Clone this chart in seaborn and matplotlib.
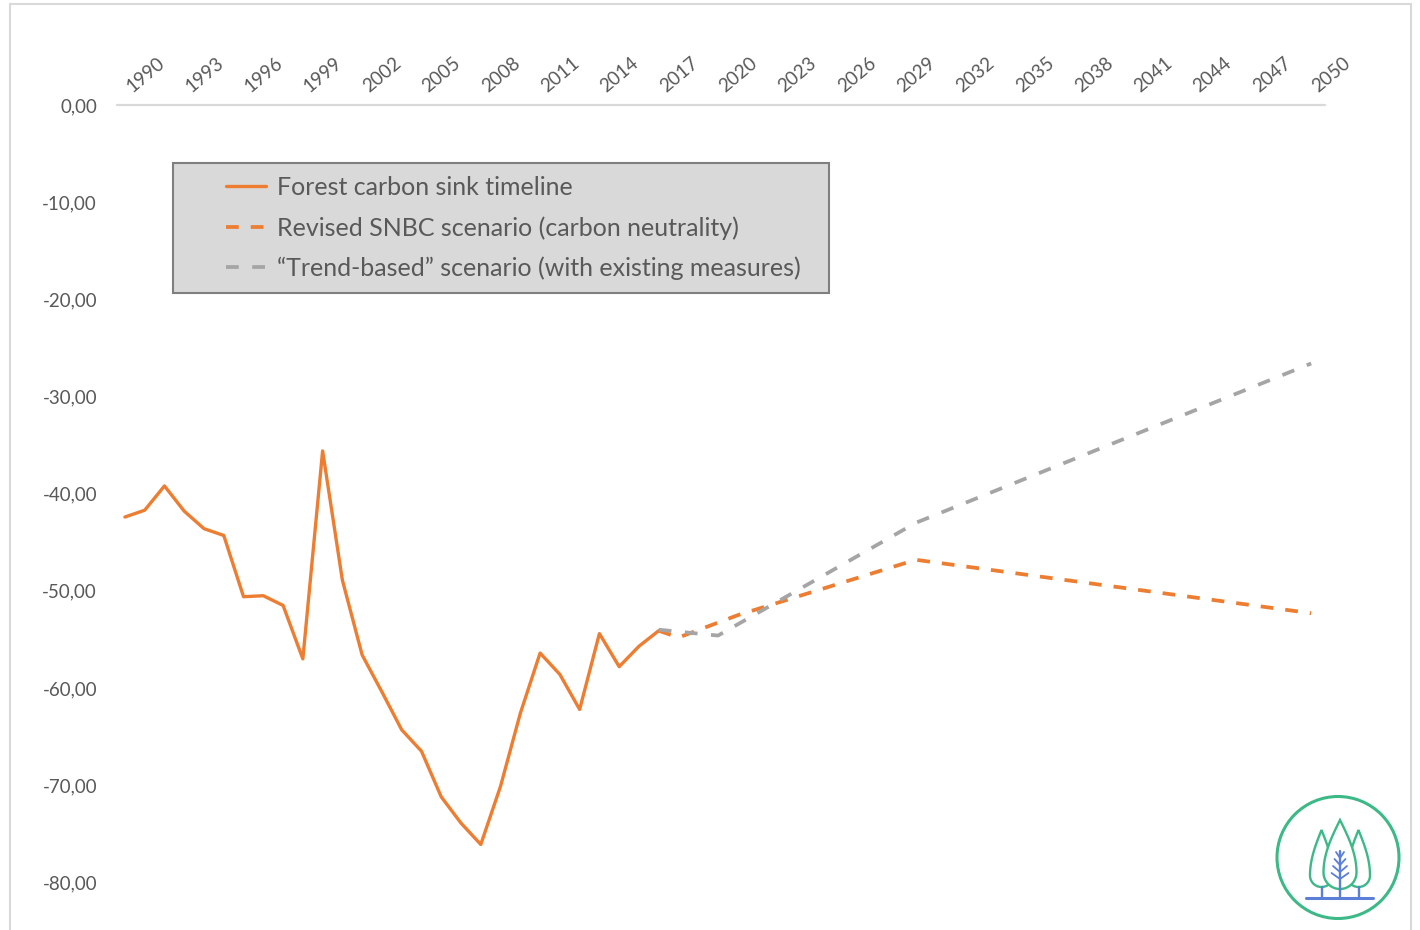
import numpy as np
import pandas as pd
import matplotlib
matplotlib.use("Agg")
import matplotlib.pyplot as plt
import matplotlib.transforms as mtransforms
from matplotlib.patches import Rectangle, Circle, Polygon
import seaborn as sns

# ---- data (MtCO2eq) ----
hist_years = list(range(1990, 2018))
hist_sink = [-42.4, -41.7, -39.2, -41.8, -43.6, -44.3, -50.6, -50.5, -51.5, -57.0,
             -35.6, -48.9, -56.6, -60.4, -64.3, -66.5, -71.2, -73.9, -76.1, -70.1,
             -62.6, -56.4, -58.6, -62.2, -54.4, -57.8, -55.7, -54.1]

snbc_years = [2017, 2018, 2021, 2030, 2050]
snbc_sink = [-54.1, -54.8, -52.5, -46.8, -52.3]

trend_years = [2017, 2020, 2030, 2050]
trend_sink = [-54.0, -54.6, -43.0, -26.6]

tick_years = list(range(1990, 2051, 3))
y_ticks = [0, -10, -20, -30, -40, -50, -60, -70, -80]

labels = ["Forest carbon sink timeline",
          "Revised SNBC scenario (carbon neutrality)",
          "\u201cTrend-based\u201d scenario (with existing measures)"]

ORANGE = "#ED7D31"
GREY = "#A5A5A5"
TEXT = "#595959"

sns.set_theme(style="white")
plt.rcParams["font.family"] = ["Lato", "DejaVu Sans"]

W, H = 1420, 930
fig = plt.figure(figsize=(W / 100, H / 100), dpi=100)


def fx(px):
    return px / W


def fy(py):
    return 1 - py / H


ax = fig.add_axes([fx(117), 0, fx(1325) - fx(117), fy(105)])

hist_df = pd.DataFrame({"year": hist_years, "value": hist_sink})
snbc_df = pd.DataFrame({"year": snbc_years, "value": snbc_sink})
trend_df = pd.DataFrame({"year": trend_years, "value": trend_sink})

sns.lineplot(data=hist_df, x="year", y="value", ax=ax, color=ORANGE,
             linewidth=2.4, label=labels[0])
sns.lineplot(data=snbc_df, x="year", y="value", ax=ax, color=ORANGE,
             linewidth=2.7, linestyle=(0, (3.4, 3.2)), label=labels[1])
sns.lineplot(data=trend_df, x="year", y="value", ax=ax, color=GREY,
             linewidth=2.7, linestyle=(0, (3.4, 3.6)), label=labels[2])

ax.set_xlim(1989.6, 2050.7)
ax.set_ylim(-84.9, 0)
ax.set_xlabel("")
ax.set_ylabel("")
for s in ax.spines.values():
    s.set_visible(False)

# zero line at the top edge
ax.axhline(0, color="#D9D9D9", linewidth=1.6, clip_on=False, zorder=1)

ax.xaxis.tick_top()
ax.set_xticks(tick_years)
ax.set_xticklabels([str(y) for y in tick_years], rotation=40, ha="left",
                   va="bottom", rotation_mode="anchor")
ax.tick_params(axis="x", length=0, pad=10, labelsize=13.5, colors=TEXT)
shift = mtransforms.ScaledTranslation(9 / 100, -4 / 100, fig.dpi_scale_trans)
for lbl in ax.get_xticklabels():
    lbl.set_transform(lbl.get_transform() + shift)

ax.set_yticks(y_ticks)
ax.set_yticklabels([f"{v:.2f}".replace(".", ",") for v in y_ticks])
ax.tick_params(axis="y", length=0, pad=14.4, labelsize=13.5, colors=TEXT)

# legend with grey box
handles, _ = ax.get_legend_handles_labels()
if ax.get_legend():
    ax.get_legend().remove()
box = Rectangle((fx(173), fy(293)), fx(829) - fx(173), fy(163) - fy(293),
                transform=fig.transFigure, facecolor="#D9D9D9",
                edgecolor="#7F7F7F", linewidth=1.5, zorder=4, clip_on=False)
ax.add_patch(box)
leg = ax.legend(handles, labels, loc="upper left",
                bbox_to_anchor=(fx(226), fy(176)),
                bbox_transform=fig.transFigure, frameon=False, borderpad=0,
                borderaxespad=0, fontsize=18, handlelength=1.6,
                handletextpad=0.45, labelspacing=0.68)
for t in leg.get_texts():
    t.set_color(TEXT)
leg.set_zorder(6)

# outer frame
fig.patches.append(Rectangle((fx(10), fy(940)), fx(1411) - fx(10), fy(4) - fy(940),
                             transform=fig.transFigure, fill=False,
                             edgecolor="#D9D9D9", linewidth=1.5))

# ---- forest emblem ----
lax = fig.add_axes([fx(1270), fy(928), fx(1410) - fx(1270), fy(788) - fy(928)])
lax.set_xlim(1270, 1410)
lax.set_ylim(928, 788)
lax.set_aspect("equal")
lax.axis("off")

GREEN = "#3DB988"
BLUE = "#5B7ED6"

lax.add_patch(Circle((1338, 857.5), 61, fill=False, edgecolor=GREEN, linewidth=2.2))


def teardrop(cx, ytop, ybot, w):
    yc = ybot - w
    s = np.linspace(0, 1, 40)
    up_x = w * np.sin(s * np.pi / 2)
    up_y = ytop + s * (yc - ytop)
    th = np.linspace(0, np.pi, 40)
    lo_x = w * np.cos(th)
    lo_y = yc + w * np.sin(th)
    xs = np.concatenate([cx + up_x, cx + lo_x, cx - up_x[::-1]])
    ys = np.concatenate([up_y, lo_y, up_y[::-1]])
    return np.column_stack([xs, ys])


for cx, yt, yb, w in [(1321.5, 830, 887, 11.5), (1358.5, 830, 887, 11.5)]:
    lax.plot([cx, cx], [yb, 898], color=BLUE, linewidth=1.7)
    lax.add_patch(Polygon(teardrop(cx, yt, yb, w), closed=True, facecolor="white",
                          edgecolor=GREEN, linewidth=1.7))
lax.add_patch(Polygon(teardrop(1340, 820, 889, 16.5), closed=True, facecolor="white",
                      edgecolor=GREEN, linewidth=1.7))
lax.plot([1340, 1340], [851, 898], color=BLUE, linewidth=1.7)
for k, yk in enumerate([858, 865, 872, 879]):
    dx = 4 + 1.5 * k
    lax.plot([1340 - dx, 1340, 1340 + dx], [yk - 6, yk, yk - 6], color=BLUE, linewidth=1.3)
lax.plot([1306, 1373], [898, 898], color=BLUE, linewidth=2.2)

fig.savefig("out.png", dpi=100)
